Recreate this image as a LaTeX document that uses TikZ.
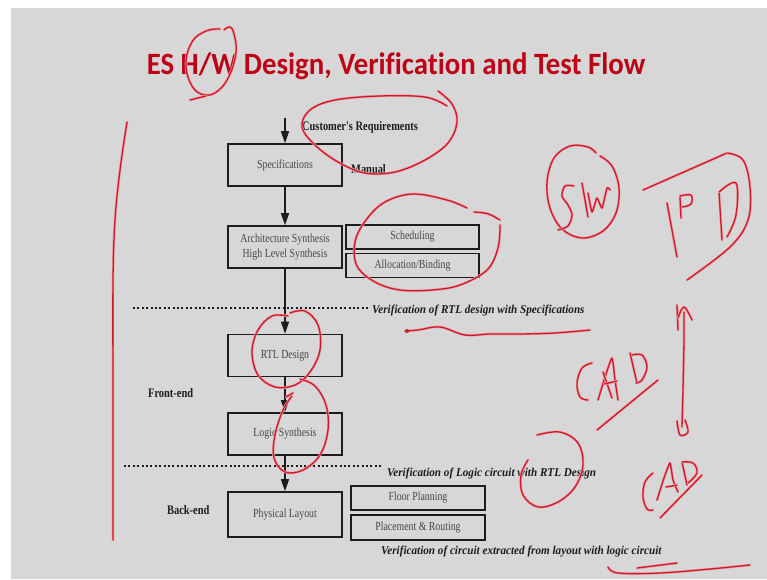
\documentclass[tikz,border=0pt]{standalone}
\usepackage{fontspec}
\setmainfont{Liberation Serif}
\newfontfamily\diagfont[FakeStretch=0.8]{Liberation Serif}
\newfontfamily\verfont[FakeStretch=0.93]{Liberation Serif}
\newfontfamily\titlefont[FakeStretch=0.93, Ligatures=NoCommon]{Carlito}
\usetikzlibrary{arrows.meta}

\definecolor{slidebg}{HTML}{D7D7D7}
\definecolor{titlered}{HTML}{BE0016}
\definecolor{inkred}{HTML}{D01828}
\definecolor{inkhalo}{HTML}{E9A3AB}
\definecolor{boxtext}{HTML}{474747}
\definecolor{labeltext}{HTML}{1C1C1C}

\tikzset{
  stepbox/.style={draw=labeltext, line width=1.6pt, inner sep=0pt, align=center,
    text=boxtext, font=\diagfont\fontsize{12.3}{13.3}\selectfont},
  sidebox/.style={stepbox, minimum width=133pt, minimum height=24pt},
  mainbox/.style={stepbox, minimum width=114pt, minimum height=42pt},
  lbl/.style={anchor=west, inner sep=0pt, text=labeltext,
    font=\diagfont\bfseries\fontsize{13}{14}\selectfont},
  verlbl/.style={anchor=west, inner sep=0pt, text=labeltext,
    font=\verfont\bfseries\itshape\fontsize{12}{13}\selectfont},
  flow/.style={draw=labeltext, line width=1.3pt,
    -{Triangle[length=12pt, width=8pt]}},
  dotline/.style={draw=labeltext, line width=2pt, dash pattern=on 2pt off 2.4pt},
  ink/.style={draw=inkred, line width=1.3pt, line cap=round, line join=round,
    preaction={draw=inkhalo, line width=2.6pt, line cap=round, line join=round}},
}

\begin{document}
\begin{tikzpicture}[x=1pt, y=-1pt]
  % page and slide area
  \useasboundingbox (0,0) rectangle (767,579);
  \fill[white] (0,0) rectangle (767,579);
  \fill[slidebg] (11,8) rectangle (767,579);

  % title
  \node[anchor=base, inner sep=0pt, text=titlered,
    font=\titlefont\bfseries\fontsize{31}{34}\selectfont] (title) at (396,74)
    {ES H/W Design, Verification and Test Flow};

  % flow boxes
  \coordinate (start) at (285,118);
  \node[mainbox] (spec)  at (285,165)   {Specifications};
  \node[mainbox] (arch)  at (285,247)   {Architecture Synthesis\\[1pt]High Level Synthesis};
  \node[sidebox] (sched) at (412.5,237) {Scheduling};
  \node[sidebox] (alloc) at (412.5,265.5) {Allocation/Binding};
  \node[mainbox] (rtl)   at (285,355.5) {RTL Design};
  \node[mainbox] (logic) at (285,434)   {Logic Synthesis};
  \node[mainbox, minimum height=45pt] (phys) at (285,514.5) {Physical Layout};
  \node[sidebox, minimum width=134pt] (floor) at (418,498)   {Floor Planning};
  \node[sidebox, minimum width=134pt, minimum height=25pt] (place) at (418,527.5) {Placement \& Routing};

  % flow arrows
  \draw[flow] (start) -- (spec.north);
  \draw[flow] (spec) -- (arch);
  \draw[flow] (arch) -- (rtl);
  \draw[flow] (rtl) -- (logic);
  \draw[flow] (logic) -- (phys);

  % labels
  \node[lbl] (cust)   at (302,127) {Customer's Requirements};
  \node[lbl] (manual) at (351,169) {Manual};
  \node[lbl] (front)  at (148,393) {Front-end};
  \node[lbl] (back)   at (167,510) {Back-end};
  \node[verlbl] (ver1) at (372,311) {Verification of RTL design with Specifications};
  \node[verlbl] (ver2) at (387,474) {Verification of Logic circuit with RTL Design};
  \node[verlbl] (ver3) at (381,552) {Verification of circuit extracted from layout with logic circuit};

  % verification boundaries
  \draw[dotline] (133,308) -- (368,308);
  \draw[dotline] (124,466) -- (382,466);

  % ---- pen annotations ----
  % loop round H/W
  \draw[ink] plot[smooth, tension=0.7] coordinates {(224,30) (230,27) (234,34) (236,52) (230,74) (219,90) (205,95) (192,86) (186,64) (192,42) (206,31) (220,29)};
  \draw[ink] (206,96) -- (190,100);
  % loop round customer's requirements
  \draw[ink] plot[smooth, tension=0.6] coordinates {(438,91) (452,104) (457,122) (448,143) (425,160) (395,172) (365,173) (338,162) (315,145) (302,127) (310,110) (335,100) (380,96) (425,97) (447,106)};
  % loop round scheduling / allocation
  \draw[ink] plot[smooth, tension=0.6] coordinates {(467,208) (447,200) (413,194) (385,202) (366,220) (355,242) (357,266) (375,282) (400,290) (432,290) (460,285) (487,270) (498,248) (500,225)};
  \draw[ink] (474,212) .. controls (488,213) .. (500,220);
  % squiggle under first verification
  \draw[ink] plot[smooth, tension=0.6] coordinates {(405,331) (418,330) (440,327) (465,335) (490,334) (520,334) (555,333) (590,330)};
  \fill[inkred] (407,331) circle (2pt);
  % loop round RTL design
  \draw[ink] plot[smooth, tension=0.6] coordinates {(288,316) (272,316) (258,330) (252,352) (258,375) (275,387) (295,385) (310,372) (320,350) (318,325) (305,311) (290,313)};
  % loop round logic synthesis
  \draw[ink] plot[smooth, tension=0.6] coordinates {(300,379) (315,386) (326,405) (328,430) (320,455) (303,470) (285,472) (274,458) (275,435) (283,410) (292,396)};
  \draw[ink] (286,397) -- (293,393);
  % loop near "with RTL Design"
  \draw[ink] plot[smooth, tension=0.6] coordinates {(537,435) (560,432) (578,443) (583,465) (575,487) (558,502) (538,507) (523,495) (521,475) (528,460)};
  % S/W
  \draw[ink] plot[smooth, tension=0.6] coordinates {(596,153) (588,147) (570,146) (554,158) (547,182) (550,208) (562,229) (582,238) (603,231) (616,213) (619,188) (612,166) (600,156)};
  \draw[ink] plot[smooth, tension=0.5] coordinates {(574,186) (565,186) (562,196) (568,205) (572,215) (568,226) (558,230)};
  \draw[ink] (582,183) -- (588,217);
  \draw[ink] plot[smooth, tension=0.3] coordinates {(588,193) (592,212) (597,198) (602,208) (607,188) (610,190)};
  % IP block sketch
  \draw[ink] (643,190) -- (727,153);
  \draw[ink] plot[smooth, tension=0.6] coordinates {(727,153) (743,160) (750,187) (748,220) (730,247) (687,280)};
  \draw[ink] (667,203) -- (677,257);
  \draw[ink] (680,197) -- (681,218);
  \draw[ink] plot[smooth, tension=0.6] coordinates {(680,196) (691,195) (691,204) (682,207)};
  \draw[ink] (719,192) -- (722,240);
  \draw[ink] plot[smooth, tension=0.6] coordinates {(719,192) (736,183) (736,215) (727,237)};
  % range bracket
  \draw[ink] (677,305) -- (678,330);
  \draw[ink] plot[smooth, tension=0.6] coordinates {(678,318) (684,307) (692,320)};
  \draw[ink] plot[smooth, tension=0.4] coordinates {(684,312) (684,340) (683,390) (682,427)};
  \draw[ink] plot[smooth, tension=0.6] coordinates {(677,421) (680,435) (688,432) (685,420)};
  % CAD (upper)
  \draw[ink] plot[smooth, tension=0.6] coordinates {(592,363) (582,368) (577,383) (580,397) (588,400)};
  \draw[ink] plot[smooth, tension=0.3] coordinates {(598,400) (605,377) (612,358) (615,380) (618,400)};
  \draw[ink] (603,372) -- (612,398);
  \draw[ink] (604,384) -- (617,381);
  \draw[ink] (630,353) -- (637,383);
  \draw[ink] plot[smooth, tension=0.6] coordinates {(632,355) (642,355) (647,367) (642,380) (636,383)};
  \draw[ink] (597,430) -- (658,380);
  % CAD (lower)
  \draw[ink] plot[smooth, tension=0.6] coordinates {(653,473) (645,482) (643,497) (647,509) (653,510)};
  \draw[ink] plot[smooth, tension=0.3] coordinates {(657,500) (664,478) (670,463) (673,480) (678,492)};
  \draw[ink] (666,487) -- (677,485);
  \draw[ink] (682,462) -- (687,485);
  \draw[ink] plot[smooth, tension=0.6] coordinates {(682,462) (693,463) (697,473) (688,483)};
  \draw[ink] (660,518) -- (702,475);
  % underlines at bottom right
  \draw[ink] plot[smooth, tension=0.6] coordinates {(608,567) (618,573) (660,573) (710,569) (750,565)};
  \draw[ink] (637,568) -- (677,563);
  % long left bar
  \draw[ink] plot[smooth, tension=0.6] coordinates {(127,122) (120,170) (115,220) (113,280) (113,400) (113,540)};
\end{tikzpicture}
\end{document}
